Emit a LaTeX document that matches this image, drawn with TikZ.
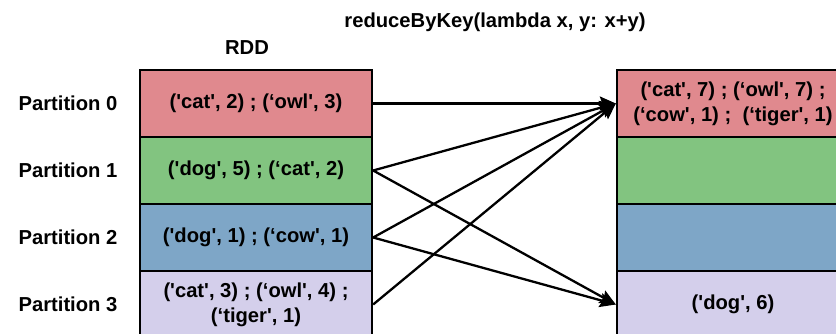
\documentclass[tikz,border=0pt]{standalone}
\usepackage{fontspec}
\setmainfont{Liberation Sans}
\usetikzlibrary{arrows.meta,calc}
\definecolor{partred}{RGB}{224,137,142}
\definecolor{partgreen}{RGB}{130,196,128}
\definecolor{partblue}{RGB}{126,166,199}
\definecolor{partlilac}{RGB}{212,207,235}
\newcommand{\sq}{\textquotesingle}
\newcommand{\cellfont}{\fontsize{20.2}{25}\selectfont\bfseries}

\begin{document}
\begin{tikzpicture}[x=1pt,y=1pt,
    cell/.style={draw,line width=2.3pt,minimum width=232pt,minimum height=67pt,inner sep=0pt,align=center,font=\cellfont},
    lbl/.style={font=\cellfont},
    flow/.style={line width=2.3pt,-{Stealth[length=16pt,width=14pt,inset=2.5pt]}}]
      \useasboundingbox (0,0) rectangle (836,333);
      \clip (0,0) rectangle (836,333);
      \def\xl{256}
      \def\xr{733}
      \def\h{67}
      \def\ytop{263}
      % source RDD
      \node[cell,fill=partred] (l0) at (\xl,\ytop-0.5*\h) {(\sq cat\sq, 2) ; (‘owl\sq, 3)};
      \node[cell,fill=partgreen] (l1) at (\xl,\ytop-1.5*\h) {(\sq dog\sq, 5) ; (‘cat\sq, 2)};
      \node[cell,fill=partblue] (l2) at (\xl,\ytop-2.5*\h) {(\sq dog\sq, 1) ; (‘cow\sq, 1)};
      \node[cell,fill=partlilac] (l3) at (\xl,\ytop-3.5*\h) {(\sq cat\sq, 3) ; (‘owl\sq, 4) ;\\(‘tiger\sq, 1)};
      % reduced RDD
      \node[cell,fill=partred] (r0) at (\xr,\ytop-0.5*\h) {(\sq cat\sq, 7) ; (‘owl\sq, 7) ;\\(‘cow\sq, 1) ;\ \ (‘tiger\sq, 1)};
      \node[cell,fill=partgreen] (r1) at (\xr,\ytop-1.5*\h) {};
      \node[cell,fill=partblue] (r2) at (\xr,\ytop-2.5*\h) {};
      \node[cell,fill=partlilac] (r3) at (\xr,\ytop-3.5*\h) {(\sq dog\sq, 6)};
      % labels
      \node[lbl] (p0) at (68,\ytop-0.5*\h) {Partition 0};
      \node[lbl] (p1) at (68,\ytop-1.5*\h) {Partition 1};
      \node[lbl] (p2) at (68,\ytop-2.5*\h) {Partition 2};
      \node[lbl] (p3) at (68,\ytop-3.5*\h) {Partition 3};
      \node[lbl] (rdd) at (247,285) {RDD};
      \node[lbl] (op) at (495,311) {reduceByKey(lambda x, y: x+y)};
      % shuffle
      \draw[flow] (l0.east) -- (r0.west);
      \draw[flow] (l1.east) -- (r0.west);
      \draw[flow] (l2.east) -- (r0.west);
      \draw[flow] (l3.east) -- (r0.west);
      \draw[flow] (l1.east) -- (r3.west);
      \draw[flow] (l2.east) -- (r3.west);
\end{tikzpicture}
\end{document}
